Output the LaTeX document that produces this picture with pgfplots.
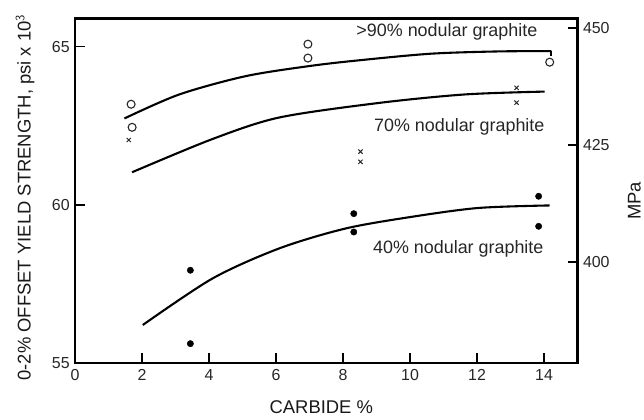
\documentclass[border=0pt]{standalone}
\usepackage{pgfplots}
\pgfplotsset{compat=1.18}
\usepackage{fontspec}
\setmainfont{Liberation Sans}
\begin{document}
\begin{tikzpicture}
\begin{axis}[
    scale only axis, width=504.5pt, height=346.2pt,
    xmin=0, xmax=15, ymin=55, ymax=65.9,
    xtick={0,2,4,6,8,10,12,14}, ytick={55,60,65},
    major tick length=10pt,
    every tick/.style={black, line width=1.4pt},
    xtick pos=left, ytick pos=left,
    /pgf/number format/assume math mode=true,
    tick label style={font=\fontsize{16}{16}\selectfont, text=black!85},
    label style={font=\fontsize{18.5}{18.5}\selectfont, text=black!90},
    axis line style={line width=2.6pt},
    xlabel={CARBIDE \%},
    ylabel={0-2\% OFFSET YIELD STRENGTH, psi x 10$^{\mathsf{3}}$},
    xlabel style={at={(axis description cs:0.49,-0.129)}, anchor=center},
    ylabel style={at={(axis description cs:-0.100,0.48)}, anchor=center},
    xticklabel style={yshift=-3pt},
    yticklabel style={xshift=-2pt},
]
\addplot[forget plot, black, line width=1.4pt, unbounded coords=jump] coordinates {
 (2,55) (2,55.315) (2,nan) (4,55) (4,55.315) (4,nan) (6,55) (6,55.315) (6,nan)
 (8,55) (8,55.315) (8,nan) (10,55) (10,55.315) (10,nan) (12,55) (12,55.315) (12,nan)
 (14,55) (14,55.315) (14,nan) (0,60) (0.297,60) (0,nan) (0,65) (0.297,65)};
\addplot[smooth, line width=2.1pt] coordinates {(1.47,62.73) (3.11,63.49) (5.10,64.07) (7.08,64.40) (8.67,64.59) (10.65,64.78) (12.63,64.85) (14.22,64.86)};
\addplot[line width=2.1pt] coordinates {(14.22,64.86) (14.22,64.70)};
\addplot[smooth, line width=2.1pt] coordinates {(1.70,61.03) (4.10,62.08) (6.09,62.76) (9.06,63.22) (11.64,63.49) (14.02,63.58)};
\addplot[smooth, line width=2.1pt] coordinates {(2.02,56.20) (4.10,57.67) (6.09,58.62) (8.07,59.25) (10.05,59.62) (12.04,59.90) (14.17,59.98)};
\addplot[only marks, mark=o, mark size=4pt, mark options={line width=1.1pt, black!85}] coordinates {(1.67,63.18) (1.70,62.45) (6.95,65.08) (6.95,64.64) (14.17,64.51)};
\addplot[only marks, mark=x, mark size=3pt, mark options={line width=1.0pt, black!85}] coordinates {(1.60,62.05) (8.52,61.68) (8.52,61.36) (13.18,63.70) (13.18,63.23)};
\addplot[only marks, mark=*, mark size=3.2pt, black] coordinates {(3.44,57.93) (3.44,55.61) (8.32,59.72) (8.32,59.14) (13.84,60.27) (13.84,59.32)};
\node[font=\fontsize{18}{18}\selectfont, text=black!85] at (axis cs:11.1,65.47) {>90\% nodular graphite};
\node[font=\fontsize{18}{18}\selectfont, text=black!85] at (axis cs:11.47,62.45) {70\% nodular graphite};
\node[font=\fontsize{18}{18}\selectfont, text=black!85] at (axis cs:11.44,58.62) {40\% nodular graphite};
\end{axis}
\begin{axis}[
    scale only axis, width=504.5pt, height=346.2pt,
    xmin=0, xmax=15, ymin=378.4, ymax=452.1,
    major tick length=10pt,
    every tick/.style={black, line width=1.4pt},
    /pgf/number format/assume math mode=true,
    tick label style={font=\fontsize{16}{16}\selectfont, text=black!85},
    label style={font=\fontsize{18.5}{18.5}\selectfont, text=black!90},
    axis x line=none, axis y line*=right,
    ytick={400,425,450},
    axis line style={line width=2.6pt},
    ylabel={MPa},
    ylabel style={at={(axis description cs:1.113,0.47)}, anchor=center},
    yticklabel style={xshift=2pt},
]
\addplot[forget plot, black, line width=1.4pt, unbounded coords=jump] coordinates {
 (15,400) (14.703,400) (15,nan) (15,425) (14.703,425) (15,nan) (15,450) (14.703,450)};
\end{axis}
\path (current axis.south west) ++(-75.5pt,-56.5pt) coordinate (bbA);
\path (current axis.north east) ++(64pt,18.3pt) coordinate (bbB);
\useasboundingbox (bbA) rectangle (bbB);
\end{tikzpicture}
\end{document}
